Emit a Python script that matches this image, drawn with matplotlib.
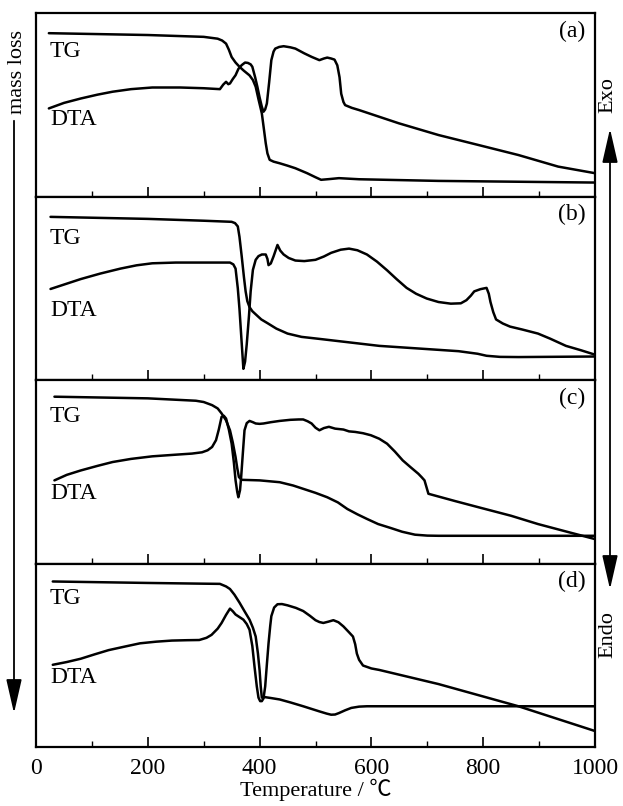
import matplotlib
matplotlib.use("Agg")
import matplotlib.pyplot as plt
from matplotlib.patches import FancyArrowPatch

# ---------------- data (temperature in degC, signal in arbitrary units 0-100) ----------------
a_tg_T = [23, 200, 300, 325, 333, 340, 345, 350, 357, 364, 372, 382, 388, 393, 398, 404, 408, 411,
          414, 418, 425, 436, 450, 464, 485, 500, 510, 525, 542, 578, 720, 1000]
a_tg_y = [89, 88, 87, 86, 85, 83.3, 80, 76, 73, 70.7, 68.5, 66, 63.5, 59.8, 53, 45.3, 36, 29, 23.5,
          20, 19, 18.1, 16.8, 15.4, 12.7, 10.5, 9.1, 9.5, 10, 9.4, 8.5, 7.6]
a_dta_T = [23, 50, 80, 110, 137, 170, 208, 258, 300, 329, 335, 340, 344, 347, 352, 357, 362, 368,
           374, 379, 384, 387, 392, 396, 400, 404, 407, 410, 413, 417, 421, 425, 428, 435, 443, 455,
           464, 480, 493, 507, 515, 521, 528, 534, 539, 543, 546, 550, 553, 565, 578, 649, 720,
           791, 863, 934, 1000]
a_dta_y = [48, 51, 53.4, 55.5, 57.1, 58.5, 59.4, 59.4, 59, 58.5, 61, 62.5, 61.2, 61.6, 64, 66.1,
           69.5, 71.6, 73, 72.8, 72, 70.7, 65, 59.8, 54, 48.9, 46.2, 47.5, 50.7, 62, 74.3, 79,
           80.6, 81.5, 81.9, 81.3, 80.6, 78, 76.1, 74.3, 75.2, 75.7, 75.2, 74.6, 71.5, 65, 56,
           51.5, 49.8, 48.3, 47.1, 39.9, 33.5, 28.1, 22.6, 16.3, 12.7]

b_tg_T = [26, 200, 300, 350, 356, 361, 364, 368, 372, 375, 378, 382, 387, 393, 403, 414, 430, 450,
          475, 507, 614, 756, 790, 806, 830, 863, 1000]
b_tg_y = [88.9, 87.8, 86.8, 86.2, 85.5, 83.7, 78, 67.4, 56, 48.3, 43, 39.7, 37.5, 35.8, 33, 31,
          28, 25.3, 23.5, 22.4, 18.6, 15.7, 14.3, 13.2, 12.6, 12.5, 12.8]
b_dta_T = [26, 50, 80, 115, 151, 180, 208, 250, 300, 347, 353, 357, 361, 364, 368, 371, 374, 377,
           381, 384, 388, 393, 398, 404, 411, 414, 416, 420, 425, 432, 437, 443, 452, 464, 480, 500,
           515, 528, 545, 560, 575, 592, 610, 628, 645, 663, 680, 699, 720, 742, 760, 770, 778,
           784, 795, 806, 810, 813, 818, 823, 835, 848, 870, 898, 920, 948, 975, 1000]
b_dta_y = [49.6, 52, 55, 58, 60.7, 62.5, 63.6, 64, 64, 64, 63, 60.7, 50, 38.7, 20, 6.1, 10, 19.5,
           35, 48.3, 60, 65.5, 67.5, 68.4, 68.4, 66, 62.6, 63.5, 67.4, 73.6, 70.5, 68.4, 66.5,
           65.1, 64.8, 65.5, 67.3, 69.3, 71, 71.6, 70.7, 68.4, 64.5, 59.8, 55, 50.2, 47, 44.4,
           42.5, 41.6, 41.8, 43.5, 46, 48.3, 49.5, 50.2, 47, 42.5, 37, 33, 30.8, 29.1, 27.5,
           25.3, 22.5, 18.6, 16.2, 13.8]

c_tg_T = [33, 200, 286, 300, 315, 325, 332, 340, 347, 352, 357, 360, 363, 368, 400, 436, 460, 478,
          500, 521, 540, 557, 575, 592, 612, 635, 655, 678, 700, 720, 1000]
c_tg_y = [90.9, 90, 88.7, 88, 86.3, 84.5, 81.8, 78, 72.6, 66, 58, 52, 47.1, 45.6, 45.3, 44.3, 42.5,
          40.7, 38.5, 36.1, 33.3, 29.7, 26.8, 24.3, 21.5, 19.3, 17.3, 15.7, 15.2, 15.1, 15.1]
c_dta_T = [33, 55, 80, 110, 137, 170, 208, 250, 279, 297, 307, 315, 322, 327, 332, 336, 340, 345,
           350, 354, 357, 360, 362, 365, 367, 370, 373, 377, 382, 388, 393, 400, 407, 420, 436, 455,
           470, 478, 486, 493, 500, 507, 515, 524, 535, 550, 560, 571, 585, 599, 614, 628, 642,
           656, 670, 684, 690, 695, 702, 750, 791, 850, 898, 950, 1000]
c_dta_y = [45.3, 48.3, 50.7, 53.2, 55.3, 57, 58.4, 59.3, 59.9, 60.6, 61.7, 63.5, 67.2, 73, 79.9,
           80.5, 79, 73, 65.3, 55, 45.3, 39, 36.1, 40, 47.1, 60, 72.6, 76.5, 77.7, 77, 76.3, 76.1,
           76.3, 77, 77.7, 78.3, 78.5, 78.5, 77.5, 76.3, 74, 72.6, 73.8, 74.5, 73.5, 73, 72,
           71.7, 71, 69.9, 68, 65.3, 61, 56.2, 52.5, 48.9, 47, 45.3, 38, 34, 30.7, 26, 21.5,
           17.3, 13.3]

d_tg_T = [30, 200, 300, 329, 340, 347, 355, 364, 373, 382, 388, 393, 397, 400, 402, 404, 409, 420,
          436, 455, 478, 507, 520, 528, 535, 542, 553, 564, 578, 592, 1000]
d_tg_y = [90.2, 89.4, 89, 88.9, 87.5, 86.1, 83, 78.7, 74, 69.4, 65, 60.2, 51, 41.7, 33, 26.9, 27.2,
          26.7, 25.9, 24.3, 22.2, 19.4, 18.2, 17.6, 17.7, 18.5, 20, 21.3, 22, 22.2, 22.2]
d_dta_T = [30, 55, 80, 105, 130, 160, 186, 215, 243, 270, 292, 305, 314, 325, 332, 340, 347, 352,
           357, 364, 371, 377, 382, 387, 391, 395, 398, 401, 404, 407, 410, 413, 416, 419, 421,
           426, 432, 440, 450, 465, 478, 490, 500, 507, 514, 523, 532, 541, 550, 560, 567, 571,
           574, 578, 585, 600, 614, 720, 863, 1000]
d_dta_y = [44.8, 46.3, 48.1, 50.5, 52.8, 54.8, 56.5, 57.4, 58, 58.2, 58.3, 59.5, 61.1, 64.5, 67.6,
           72, 75.4, 74, 72.2, 70.8, 69.4, 67, 63.9, 55, 43.5, 33, 26.9, 25, 25, 26.5, 33, 45, 56.5,
           66, 71.3, 76, 77.8, 77.9, 77.2, 75.8, 74.1, 71.5, 69.1, 68.1, 67.6, 68.3, 69.1, 68,
           65.7, 62.5, 60.2, 56, 50.9, 47.5, 44.4, 42.8, 42, 34.3, 22.2, 8.7]

panel_names = ["(a)", "(b)", "(c)", "(d)"]
tick_values = [0, 200, 400, 600, 800, 1000]
# label positions (fraction of panel height) for "TG" and "DTA"
tg_label_y = [79, 77, 80, 81]
dta_label_y = [42, 38, 38, 38]

series = [
    (a_tg_T, a_tg_y, a_dta_T, a_dta_y),
    (b_tg_T, b_tg_y, b_dta_T, b_dta_y),
    (c_tg_T, c_tg_y, c_dta_T, c_dta_y),
    (d_tg_T, d_tg_y, d_dta_T, d_dta_y),
]

# ---------------- figure ----------------
plt.rcParams['font.family'] = ['Liberation Serif', 'Noto Sans CJK SC', 'DejaVu Serif']
W, H = 623, 806
fig = plt.figure(figsize=(W / 100, H / 100), dpi=100)
left, right, bottom, top = 36 / W, 595 / W, 1 - 747 / H, 1 - 13 / H
gs = fig.add_gridspec(4, 1, left=left, right=right, bottom=bottom, top=top, hspace=0)

for i, (tgT, tgY, dT, dY) in enumerate(series):
    ax = fig.add_subplot(gs[i])
    ax.plot(tgT, tgY, color='black', lw=1.8, solid_joinstyle='round', solid_capstyle='round')
    ax.plot(dT, dY, color='black', lw=1.8, solid_joinstyle='round', solid_capstyle='round')
    ax.set_xlim(0, 1000)
    ax.set_ylim(0, 100)
    ax.set_yticks([])
    ax.set_xticks(tick_values)
    ax.set_xticks(range(100, 1000, 200), minor=True)
    ax.tick_params(axis='x', which='major', direction='in', length=7, width=1.2,
                   labelsize=17, pad=8)
    ax.tick_params(axis='x', which='minor', direction='in', length=4, width=1.0)
    if i < 3:
        ax.tick_params(axis='x', labelbottom=False)
    else:
        ax.set_xticklabels([str(v) for v in tick_values])
        ax.set_xlabel("Temperature / ℃", fontsize=16, labelpad=0)
    for sp in ax.spines.values():
        sp.set_linewidth(1.6)
    ax.text(25, tg_label_y[i], "TG", fontsize=17, va='center', ha='left')
    ax.text(25, dta_label_y[i], "DTA", fontsize=17, va='center', ha='left')
    ax.text(983, 90, panel_names[i], fontsize=17, va='center', ha='right')

# left "mass loss" arrow
fig.text(18 / W, 1 - 72 / H, "mass loss", rotation=90, fontsize=16, ha='center', va='center')
fig.add_artist(FancyArrowPatch((14 / W, 1 - 118 / H), (14 / W, 1 - 716 / H),
                               transform=fig.transFigure,
                               arrowstyle='-|>,head_length=1.4,head_width=0.32',
                               mutation_scale=15, color='black', lw=1.3))

# right Exo / Endo arrow
fig.text(608 / W, 1 - 95 / H, "Exo", rotation=90, fontsize=16, ha='center', va='center')
fig.text(608 / W, 1 - 635 / H, "Endo", rotation=90, fontsize=16, ha='center', va='center')
fig.add_artist(FancyArrowPatch((610 / W, 1 - 592 / H), (610 / W, 1 - 126 / H),
                               transform=fig.transFigure,
                               arrowstyle='<|-|>,head_length=1.4,head_width=0.32',
                               mutation_scale=15, color='black', lw=1.3))

fig.savefig("out.png", dpi=100)
